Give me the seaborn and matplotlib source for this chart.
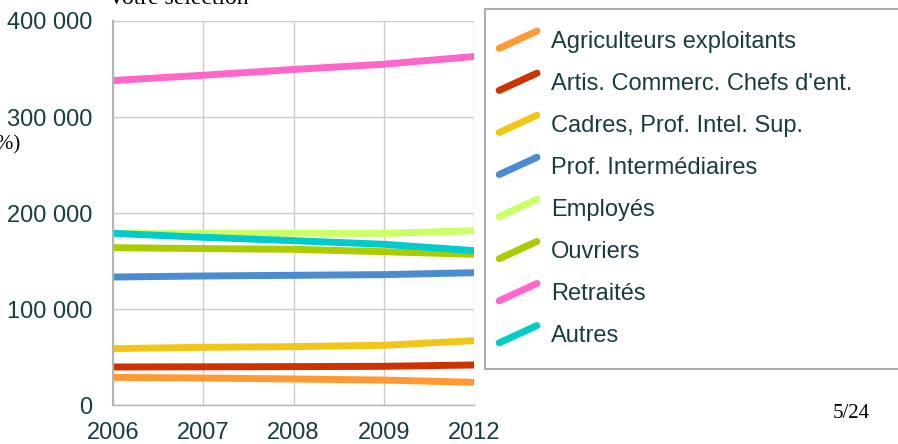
import numpy as np
import pandas as pd
import matplotlib
matplotlib.use("Agg")
import matplotlib.pyplot as plt
import seaborn as sns
from matplotlib.legend_handler import HandlerBase
from matplotlib.lines import Line2D
from matplotlib.ticker import FuncFormatter

# données
years = ["2006", "2007", "2008", "2009", "2012"]
categories = ["Agriculteurs exploitants", "Artis. Commerc. Chefs d'ent.",
              "Cadres, Prof. Intel. Sup.", "Prof. Intermédiaires", "Employés",
              "Ouvriers", "Retraités", "Autres"]
agriculteurs = [28800, 28100, 27100, 26000, 23600]
artisans = [39600, 39800, 40000, 40300, 41700]
cadres = [58700, 60100, 60800, 62200, 67000]
prof_inter = [133300, 134400, 135100, 135800, 137800]
employes = [178800, 179000, 179000, 178800, 181600]
ouvriers = [163900, 162900, 162200, 159700, 157000]
retraites = [338000, 343500, 349500, 355000, 363000]
autres = [178800, 174700, 171200, 167400, 160800]
y_ticks = [0, 100000, 200000, 300000, 400000]

colors = ["#ff9933", "#cc3300", "#f2c618", "#4a8ccf",
          "#ccff66", "#aacc00", "#ff66cc", "#00cccc"]
text_color = "#183c42"

series = [agriculteurs, artisans, cadres, prof_inter, employes, ouvriers, retraites, autres]
rows = []
for cat, vals in zip(categories, series):
    for i, v in enumerate(vals):
        rows.append({"idx": i, "valeur": v, "categorie": cat})
df = pd.DataFrame(rows)

sns.set_style("white")
plt.rcParams["font.family"] = ["Liberation Sans", "DejaVu Sans"]

fig = plt.figure(figsize=(8.98, 4.44), dpi=100)
ax = fig.add_axes([113 / 898, 1 - 405 / 444, (474 - 113) / 898, (405 - 21) / 444])

sns.lineplot(data=df, x="idx", y="valeur", hue="categorie", hue_order=categories,
             palette=dict(zip(categories, colors)), linewidth=5,
             solid_capstyle="round", ax=ax, legend=False)

ax.set_xlim(0, len(years) - 1)
ax.set_ylim(0, 400000)
ax.set_xticks(range(len(years)))
ax.set_xticklabels(years)
ax.set_yticks(y_ticks)
ax.yaxis.set_major_formatter(FuncFormatter(lambda v, p: f"{int(v):,}".replace(",", " ")))
ax.set_xlabel("")
ax.set_ylabel("")
ax.grid(True, color="#cccccc", linewidth=1)
ax.set_axisbelow(True)
for s in ["top", "right"]:
    ax.spines[s].set_visible(False)
ax.spines["left"].set_color("#b3b3b3")
ax.spines["left"].set_linewidth(1.5)
ax.spines["bottom"].set_color("#b3b3b3")
ax.spines["bottom"].set_linewidth(1)
ax.tick_params(axis="both", length=6, color="#b3b3b3", labelsize=17, labelcolor=text_color)
ax.tick_params(axis="y", pad=9)
ax.tick_params(axis="x", pad=6)


class DiagHandler(HandlerBase):
    # trait oblique comme dans la légende d'origine
    def create_artists(self, legend, orig_handle, xdescent, ydescent, width, height, fontsize, trans):
        shift = 0.33 * fontsize
        line = Line2D([-xdescent - shift, -xdescent + width - shift],
                      [-ydescent, -ydescent + height],
                      color=orig_handle.get_color(), linewidth=5, solid_capstyle="round",
                      transform=trans)
        return [line]


handles = [Line2D([], [], color=c) for c in colors]
leg = fig.legend(handles, categories, loc="upper left",
                 bbox_to_anchor=(485 / 898, 1 - 368 / 444, (930 - 485) / 898, (368 - 9) / 444),
                 mode="expand", borderaxespad=0, fontsize=17, frameon=True, fancybox=False,
                 handler_map={Line2D: DiagHandler()}, handlelength=1.6, handleheight=0.75,
                 handletextpad=0.28, labelspacing=0.85, borderpad=0.93, labelcolor=text_color)
leg.get_frame().set_edgecolor("#999999")
leg.get_frame().set_linewidth(1.5)

# textes de la diapositive, en partie coupés
fig.text(108 / 898, 1 - 4 / 444, "Votre sélection", family=["Liberation Serif", "DejaVu Serif"],
         fontsize=17, va="baseline", ha="left", color="black")
fig.text(20 / 898, 1 - 145 / 444, "(%)", family=["Liberation Serif", "DejaVu Serif"],
         fontsize=15, va="center", ha="right", color="black")
fig.text(870 / 898, 1 - 413 / 444, "5/24", family=["Liberation Serif", "DejaVu Serif"],
         fontsize=15, va="center", ha="right", color="black")

fig.savefig("out.png", dpi=100)
